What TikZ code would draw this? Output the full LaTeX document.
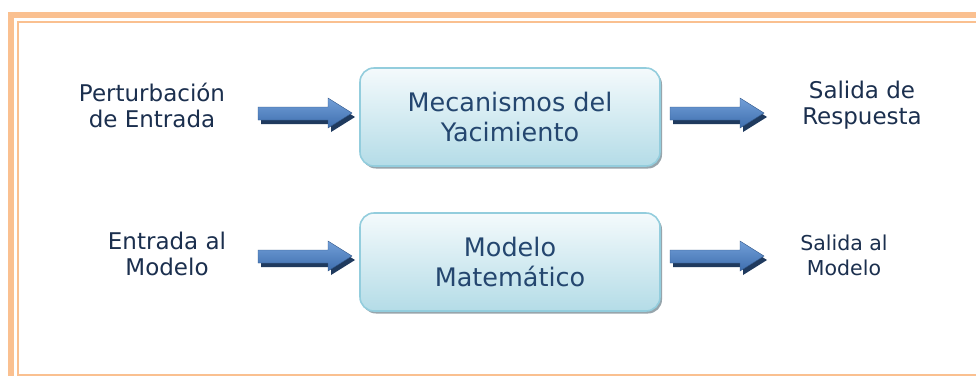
\documentclass[tikz,border=0pt]{standalone}
\usepackage{fontspec}
\setmainfont{DejaVu Sans}
\usetikzlibrary{shadows}
\definecolor{frameor}{HTML}{FAC090}
\definecolor{lbltxt}{HTML}{1B2F4E}
\definecolor{boxtxt}{HTML}{24466F}
\definecolor{boxline}{HTML}{93CDDD}
\definecolor{boxtop}{HTML}{F4FAFC}
\definecolor{boxbot}{HTML}{B4DCE7}
\definecolor{arrtop}{HTML}{729FD8}
\definecolor{arrbot}{HTML}{3E6EAE}
\definecolor{arrshadow}{HTML}{1F3A5E}
\definecolor{boxshadow}{HTML}{8C9CA3}
\newcommand{\blkarrow}[2]{%
  % #1 left x, #2 center y (pixels)
  \fill[arrshadow] ({#1+3},{#2-6+4}) -- ({#1+70+3},{#2-6+4}) -- ({#1+70+3},{#2-15+4}) -- ({#1+94+3},{#2+4}) -- ({#1+70+3},{#2+15+4}) -- ({#1+70+3},{#2+7+4}) -- ({#1+3},{#2+7+4}) -- cycle;
  \shade[top color=arrtop,bottom color=arrbot,draw=arrbot!80!black,line width=0.4pt] (#1,{#2-6}) -- ({#1+70},{#2-6}) -- ({#1+70},{#2-15}) -- ({#1+94},{#2}) -- ({#1+70},{#2+15}) -- ({#1+70},{#2+7}) -- (#1,{#2+7}) -- cycle;
}
\tikzset{
  lbl/.style={text=lbltxt,align=center,font=\fontsize{23}{26}\selectfont,inner sep=0pt},
  lblsmall/.style={text=lbltxt,align=center,font=\fontsize{20.5}{25}\selectfont,inner sep=0pt},
  procbox/.style={rounded corners=14pt,top color=boxtop,bottom color=boxbot,draw=boxline,line width=1.6pt,
    minimum width=300pt,minimum height=98pt,text=boxtxt,align=center,
    font=\fontsize{25.5}{30}\selectfont,
    drop shadow={shadow xshift=2pt,shadow yshift=-2.5pt,fill=boxshadow,opacity=0.9}},
}
\begin{document}
\begin{tikzpicture}[x=1pt,y=-1pt]
\useasboundingbox (0,0) rectangle (976,376);
\fill[white] (0,0) rectangle (976,376);
% frame
\fill[frameor] (8,12) rectangle (976,18);
\fill[frameor] (8,12) rectangle (14,376);
\fill[frameor] (17,21) rectangle (976,23);
\fill[frameor] (17,21) rectangle (19,376);
\fill[frameor] (17,374) rectangle (976,376);
% boxes
\node[procbox] (mec) at (510,117) {Mecanismos del\\Yacimiento};
\node[procbox] (mod) at (510,262) {Modelo\\Matemático};
% labels
\node[lbl] (pert) at (152,105) {Perturbación\\de Entrada};
\node[lbl] (sal1) at (862,105) {Salida de\\Respuesta};
\node[lbl] (ent) at (167,254) {Entrada al\\Modelo};
\node[lblsmall] (sal2) at (844,255) {Salida al\\Modelo};
% arrows
\blkarrow{258}{113}
\blkarrow{670}{113}
\blkarrow{258}{256}
\blkarrow{670}{256}
\end{tikzpicture}
\end{document}
